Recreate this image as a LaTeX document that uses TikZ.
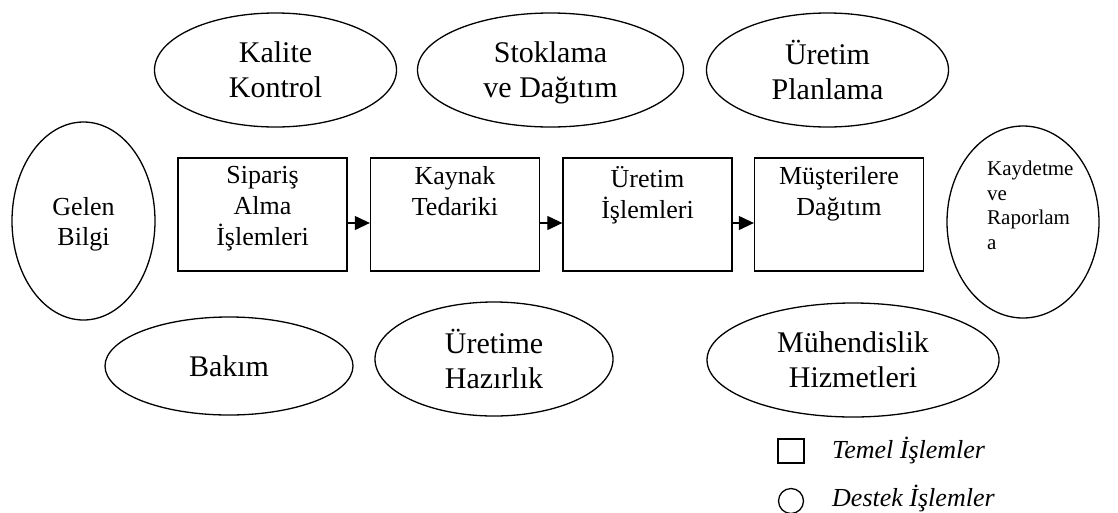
\documentclass[tikz,border=0pt]{standalone}
\usepackage{fontspec}
\setmainfont{Liberation Serif}
\usetikzlibrary{shapes.geometric,arrows.meta,calc}
\begin{document}
\begin{tikzpicture}[x=1pt,y=-1pt,
  support/.style={draw,ellipse,line width=1.3pt,inner sep=0pt,align=center,
    font=\fontsize{30}{35}\selectfont,text depth=0pt},
  stepbox/.style={draw,rectangle,line width=1.3pt,inner sep=0pt,
    minimum width=169pt,minimum height=113pt},
  boxtext/.style={anchor=north,inner sep=0pt,align=center,
    font=\fontsize{26}{31}\selectfont},
  flow/.style={line width=1.2pt,-{Triangle[length=15pt,width=14pt]}},
  legendtext/.style={anchor=base west,inner sep=0pt,
    font=\itshape\fontsize{26}{30}\selectfont}]
\useasboundingbox[fill=white] (0,0) rectangle (1118,512);

% support processes, top row
\node[support,minimum width=242pt,minimum height=114pt] (kalite) at (275.5,70) {Kalite\\Kontrol};
\node[support,minimum width=266pt,minimum height=114pt] (stok) at (550.5,70) {Stoklama\\ve Dağıtım};
\node[support,minimum width=242pt,minimum height=114pt] (plan) at (827.5,70) {Üretim\\Planlama};

% side ellipses
\node[support,minimum width=143pt,minimum height=198pt,
  font=\fontsize{26}{30}\selectfont] (gelen) at (83.5,221) {Gelen\\Bilgi};
\node[draw,ellipse,line width=1.3pt,inner sep=0pt,minimum width=152pt,minimum height=192pt] (kayit) at (1023,222) {};
\node[anchor=north west,inner sep=0pt,align=left,
  font=\fontsize{21}{24.5}\selectfont] (kayittext) at (987,161) {Kaydetme\\ve\\Raporlam\\a};

% main process chain
\node[stepbox] (b1) at (262.5,214.5) {};
\node[stepbox] (b2) at (455,214.5) {};
\node[stepbox] (b3) at (647.5,214.5) {};
\node[stepbox] (b4) at (839,214.5) {};
\node[boxtext] (t1) at ($(b1.north)+(0,9)$) {Sipariş\\Alma\\İşlemleri};
\node[boxtext] (t2) at ($(b2.north)+(0,9)$) {Kaynak\\Tedariki};
\node[boxtext] (t3) at ($(b3.north)+(0,9)$) {Üretim\\İşlemleri};
\node[boxtext] (t4) at ($(b4.north)+(0,9)$) {Müşterilere\\Dağıtım};
\draw[flow] ($(b1.east)+(0,8.5)$) -- ($(b2.west)+(0,8.5)$);
\draw[flow] ($(b2.east)+(0,8.5)$) -- ($(b3.west)+(0,8.5)$);
\draw[flow] ($(b3.east)+(0,8.5)$) -- ($(b4.west)+(0,8.5)$);

% support processes, bottom row
\node[support,minimum width=248pt,minimum height=98pt] (bakim) at (229,366) {Bakım};
\node[support,minimum width=238pt,minimum height=114pt] (hazir) at (494,359) {Üretime\\Hazırlık};
\node[support,minimum width=292pt,minimum height=114pt] (muh) at (853,360) {Mühendislik\\Hizmetleri};

% legend
\node[draw,rectangle,line width=1.3pt,inner sep=0pt,minimum width=26pt,minimum height=24pt] (lsq) at (791,451) {};
\node[draw,circle,line width=1.3pt,inner sep=0pt,minimum size=25pt] (lci) at (791,501) {};
\node[legendtext] (lsqt) at (832,458) {Temel İşlemler};
\node[legendtext] (lcit) at (832,506) {Destek İşlemler};
\end{tikzpicture}
\end{document}
